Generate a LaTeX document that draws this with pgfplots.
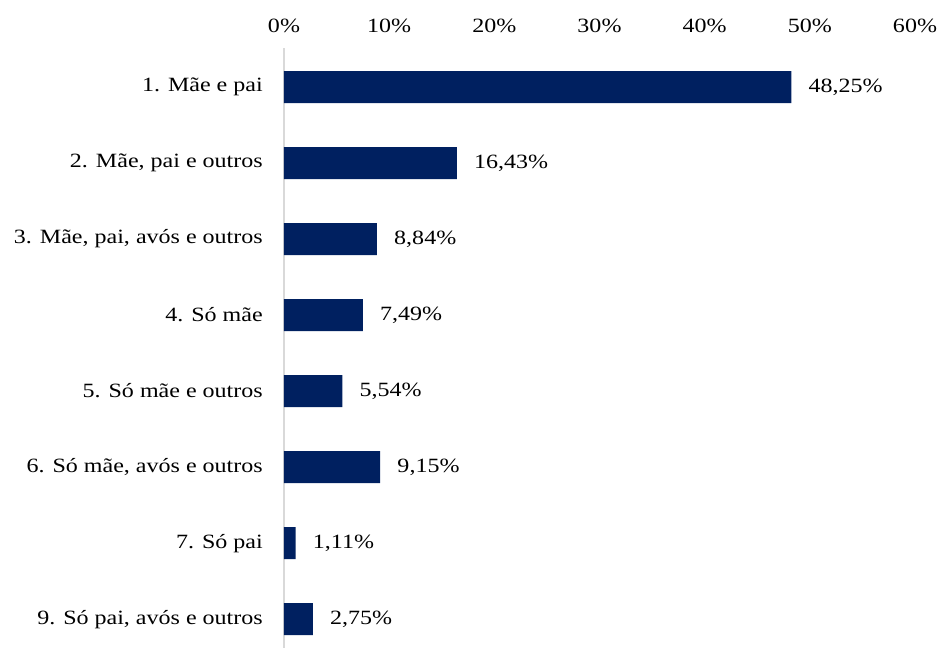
\documentclass[border=0pt]{standalone}
\usepackage{fontspec}
\setmainfont{Liberation Serif}[FakeStretch=1.185]
\usepackage{pgfplots}
\pgfplotsset{compat=1.18}
\definecolor{barblue}{HTML}{002060}
\definecolor{axgray}{HTML}{D9D9D9}
\newcommand{\lblfont}{\fontsize{15.2pt}{18pt}\selectfont}
\begin{document}
\begin{tikzpicture}
\begin{axis}[
  scale only axis,
  width=473.25pt, height=450pt,
  xbar, bar width=24pt,
  xmin=0, xmax=60,
  ymin=-0.513, ymax=7.38,
  y dir=reverse,
  axis x line*=top,
  axis y line*=left,
  x axis line style={draw=none},
  y axis line style={draw=axgray, line width=1.5pt},
  xtick={0,10,20,30,40,50,60},
  xticklabels={0\%,10\%,20\%,30\%,40\%,50\%,60\%},
  ytick={0,1,2,3,4,5,6,7},
  yticklabels={1. Mãe e pai,2. Mãe{,} pai e outros,3. Mãe{,} pai{,} avós e outros,4. Só mãe,5. Só mãe e outros,6. Só mãe{,} avós e outros,7. Só pai,9. Só pai{,} avós e outros},
  major tick length=0pt,
  tick style={draw=none},
  xticklabel style={font=\lblfont, anchor=base, inner sep=0pt, yshift=12pt},
  yticklabel style={font=\lblfont, anchor=east, inner sep=0pt, xshift=-15.75pt},
  /pgf/number format/assume math mode=true,
  nodes near coords={\pgfmathprintnumber[fixed,fixed zerofill,precision=2,use comma]{\pgfplotspointmeta}\%},
  nodes near coords style={font=\lblfont, anchor=west, inner sep=0pt, xshift=12.75pt, text=black},
  point meta=x,
  clip=false,
]
\addplot[fill=barblue, draw=none] coordinates {
(48.25,0) (16.43,1) (8.84,2) (7.49,3) (5.54,4) (9.15,5) (1.11,6) (2.75,7)};
\coordinate (a) at (rel axis cs:0,0);
\coordinate (b) at (rel axis cs:1,1);
\end{axis}
\pgfresetboundingbox
\useasboundingbox ([xshift=-213pt]a) rectangle ([xshift=18.75pt,yshift=36pt]b);
\end{tikzpicture}
\end{document}
